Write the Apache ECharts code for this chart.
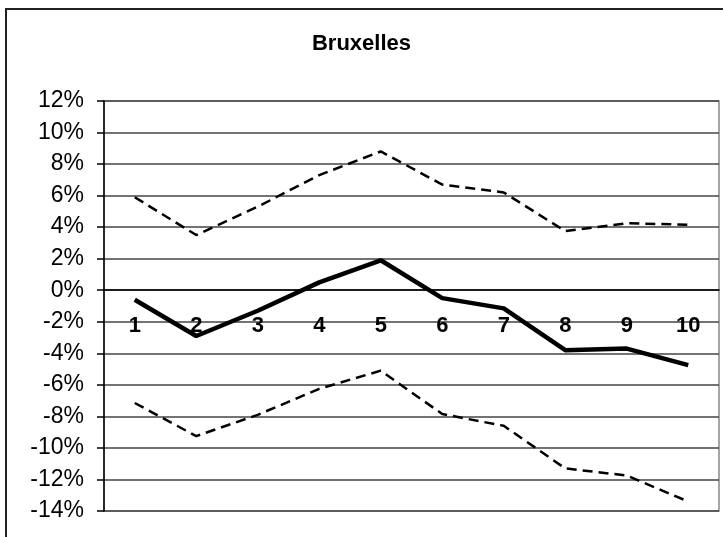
<!DOCTYPE html>
<html>
<head>
<meta charset="utf-8">
<script src="https://cdn.jsdelivr.net/npm/echarts@6/dist/echarts.min.js"></script>
<style>
  html, body { margin: 0; padding: 0; background: #fff; }
  #chart { width: 723px; height: 537px; }
</style>
</head>
<body>
<div id="chart"></div>
<script>
// 类别（横轴）
const categories = ['1', '2', '3', '4', '5', '6', '7', '8', '9', '10'];

// 中线（实线）
const midValues = [-0.6, -2.9, -1.3, 0.5, 1.9, -0.5, -1.15, -3.8, -3.7, -4.75];

// 上界（虚线）
const upperValues = [5.9, 3.5, 5.3, 7.3, 8.8, 6.7, 6.2, 3.75, 4.25, 4.15];

// 下界（虚线）
const lowerValues = [-7.15, -9.25, -7.9, -6.25, -5.1, -7.85, -8.6, -11.3, -11.75, -13.4];

const chart = echarts.init(document.getElementById('chart'));

const dashedStyle = { color: '#000', width: 2.5, type: [10, 6] };

// 网格位置
const gridTop = 101;
const gridBottom = 26;
const chartHeight = 537;
const yMin = -14;
const yMax = 12;
// 横轴移到 0% 处
const plotH = chartHeight - gridTop - gridBottom;
const zeroOffset = -plotH * (0 - yMin) / (yMax - yMin);

const option = {
    backgroundColor: '#fff',
    animation: false,
    // 外框
    graphic: [
        {
            type: 'rect',
            shape: { x: 6, y: 9, width: 740, height: 560 },
            style: { fill: 'none', stroke: '#222', lineWidth: 2 }
        }
    ],
    title: {
        text: 'Bruxelles',
        left: 'center',
        top: 28,
        textStyle: {
            fontFamily: 'Liberation Sans, Arial',
            fontSize: 22,
            fontWeight: 'bold',
            color: '#000'
        }
    },
    grid: {
        left: 104,
        right: 4,
        top: gridTop,
        bottom: gridBottom,
        outerBoundsMode: 'none',
        containLabel: false,
        show: true,
        borderColor: '#888',
        borderWidth: 1.5
    },
    xAxis: {
        type: 'category',
        data: categories,
        position: 'bottom',
        offset: zeroOffset,
        boundaryGap: true,
        axisLine: { onZero: false, lineStyle: { color: '#000', width: 1.5 } },
        axisTick: { inside: true, length: 7, lineStyle: { color: '#000', width: 1.5 } },
        axisLabel: {
            margin: 25,
            fontFamily: 'Liberation Sans, Arial',
            fontSize: 22,
            fontWeight: 'bold',
            color: '#000'
        },
        splitLine: { show: false }
    },
    yAxis: {
        type: 'value',
        min: yMin,
        max: yMax,
        interval: 2,
        axisLine: { show: true, lineStyle: { color: '#000', width: 1.5 } },
        axisTick: { show: true, length: 7, lineStyle: { color: '#000', width: 1.5 } },
        axisLabel: {
            margin: 20,
            formatter: '{value}%',
            fontFamily: 'Liberation Sans, Arial',
            fontSize: 23,
            color: '#000'
        },
        splitLine: { lineStyle: { color: '#444', width: 1.5 } }
    },
    series: [
        {
            name: 'mid',
            type: 'line',
            data: midValues,
            symbol: 'none',
            lineStyle: { color: '#000', width: 4.5 }
        },
        {
            name: 'upper',
            type: 'line',
            data: upperValues,
            symbol: 'none',
            lineStyle: dashedStyle
        },
        {
            name: 'lower',
            type: 'line',
            data: lowerValues,
            symbol: 'none',
            lineStyle: dashedStyle
        }
    ]
};

chart.setOption(option);
</script>
</body>
</html>
